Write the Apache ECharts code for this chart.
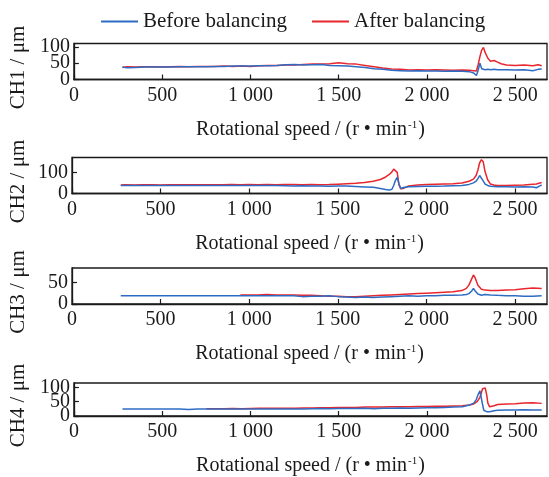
<!DOCTYPE html>
<html><head><meta charset="utf-8">
<script src="https://cdn.jsdelivr.net/npm/echarts@6/dist/echarts.min.js"></script>
<style>html,body{margin:0;padding:0;background:#fff}#c{width:549px;height:477px}</style>
</head><body><div id="c"></div>
<script>
// ---- data ----
var seriesNames = ['Before balancing', 'After balancing'];
var channelNames = ['CH1 / μm', 'CH2 / μm', 'CH3 / μm', 'CH4 / μm'];
var xTicks = [0, 500, 1000, 1500, 2000, 2500];
var xTickLabels = ['0', '500', '1 000', '1 500', '2 000', '2 500'];
var yTicks1 = [0, 50, 100];
var yTicks2 = [0, 100];
var yTicks3 = [0, 50];
var yTicks4 = [0, 50, 100];

var rpm1 = [275,300,350,400,450,500,550,600,650,700,750,800,850,900,950,1000,1050,1100,1150,1200,1250,1300,1350,1400,1450,1500,1550,1600,1650,1700,1750,1800,1850,1900,1950,2000,2050,2100,2150,2200,2240,2265,2280,2290,2300,2310,2320,2330,2345,2360,2380,2400,2420,2450,2500,2550,2600,2630,2650];
var ch1Before = [38,36,37,38,38,38,38,39,39,39,39,40,40,41,41,41,42,42,43,45,46,44,45,46,43,42,41,39,37,33,31,28,27,26,27,26,26,25,26,25,24,20,12,28,50,33,30,30,31,30,31,30,30,30,29,30,27,31,32];
var ch1After  = [37,39,38,39,39,38,39,40,39,40,40,40,41,40,41,40,42,43,43,44,44,46,47,47,48,51,48,47,43,39,35,32,31,29,30,29,30,29,28,29,28,27,26,45,70,90,98,82,65,56,58,53,48,44,43,44,42,45,42];

var rpm2 = [275,300,350,400,450,500,550,600,650,700,750,800,850,900,950,1000,1050,1100,1150,1200,1250,1300,1350,1400,1450,1500,1550,1600,1650,1700,1740,1770,1790,1805,1815,1825,1835,1845,1855,1870,1900,1950,2000,2050,2100,2150,2200,2240,2265,2280,2290,2300,2310,2320,2330,2345,2360,2380,2400,2450,2500,2550,2600,2620,2640,2650];
var ch2Before = [38,38,38,38,38,38,38,38,38,38,38,38,38,38,38,38,38,38,38,37,36,37,35,36,34,36,35,33,31,29,24,19,16,20,38,62,76,45,24,28,32,33,34,34,35,37,38,43,50,58,70,85,80,60,45,38,34,33,32,32,31,32,31,27,36,40];
var ch2After  = [40,41,40,41,41,40,41,41,41,41,41,41,41,42,41,42,41,42,41,42,42,41,43,41,42,44,46,48,52,58,66,78,90,102,115,118,100,40,22,24,36,40,42,44,45,46,50,58,68,85,110,145,160,150,105,65,45,40,38,38,39,40,44,45,50,52];

var rpm3 = [275,300,350,400,450,500,550,600,650,700,750,800,850,900,950,1000,1050,1100,1150,1200,1250,1300,1350,1400,1450,1500,1550,1600,1650,1700,1750,1800,1850,1900,1950,2000,2050,2100,2150,2200,2225,2240,2255,2265,2275,2290,2310,2330,2360,2400,2450,2500,2550,2600,2650];
var ch3Before = [19,19,19,19,19,19,19,19,19,19,19,19,19,19,19,19,19,19,19,19,19,17,18,18,19,17,16,15,16,15,16,17,18,19,18,19,19,20,20,21,22,24,30,36,30,23,20,22,21,20,19,19,18,18,19];
var ch3After  = [null,null,null,null,null,null,null,null,null,null,null,null,null,null,21,21,21,22,21,21,21,20,20,19,18,18,17,17,18,19,20,21,22,23,24,25,26,27,28,31,36,44,58,67,60,43,34,32,31,31,32,33,35,37,36];

var rpm4 = [275,300,350,400,450,500,550,600,650,700,750,800,850,900,950,1000,1050,1100,1150,1200,1250,1300,1350,1400,1450,1500,1550,1600,1650,1700,1750,1800,1850,1900,1950,2000,2050,2100,2150,2200,2240,2265,2280,2290,2300,2308,2315,2322,2330,2338,2345,2355,2365,2380,2400,2450,2500,2550,2600,2650];
var ch4Before = [24,24,24,24,24,24,24,24,23,24,24,24,24,24,24,24,24,24,24,24,24,24,25,26,25,26,26,26,27,25,27,27,28,27,28,29,29,30,31,32,38,45,58,75,88,82,40,20,16,15,14,15,16,18,20,21,21,22,21,21];
var ch4After  = [null,null,null,null,null,null,null,null,null,null,25,25,25,26,25,26,27,27,27,27,27,28,28,29,29,30,30,30,31,31,31,32,32,32,33,33,34,34,35,36,38,42,48,55,65,80,95,100,98,75,45,32,28,36,40,42,43,45,46,44];

// ---- chart ----
var FONT = 'Liberation Serif';
var BLUE = '#2e6cc4', RED = '#e8262d', INK = '#1a1a1a';
var gridTops = [43.5, 157.5, 268, 383];
var gridH = 36;
var yMax = [110, 170, 83, 115];
var yTickSets = [yTicks1, yTicks2, yTicks3, yTicks4];
var rpms = [rpm1, rpm2, rpm3, rpm4];
var befores = [ch1Before, ch2Before, ch3Before, ch4Before];
var afters = [ch1After, ch2After, ch3After, ch4After];

function pairs(xs, ys) {
  var out = [];
  for (var i = 0; i < xs.length; i++) if (ys[i] !== null) out.push([xs[i], ys[i]]);
  return out;
}

var grids = [], xAxes = [], yAxes = [], series = [];
for (var k = 0; k < 4; k++) {
  grids.push({left: 72, right: 2, top: gridTops[k], height: gridH, show: true,
    borderColor: INK, borderWidth: 1.3, backgroundColor: 'transparent'});
  xAxes.push({type: 'value', gridIndex: k, min: 0, max: 2680,
    name: 'Rotational speed / (r • min{sup|-1})', nameLocation: 'middle', nameGap: 40,
    nameTextStyle: {fontFamily: FONT, fontSize: 20, color: INK,
      rich: {sup: {fontFamily: FONT, fontSize: 11, verticalAlign: 'top', padding: [0, 1, 9, 1], color: INK}}},
    axisLine: {show: true, lineStyle: {color: INK, width: 1.3}},
    axisTick: {inside: true, length: 5, lineStyle: {color: INK, width: 1.2}, customValues: xTicks},
    axisLabel: {margin: 6, fontFamily: FONT, fontSize: 20, color: INK, customValues: xTicks,
      showMinLabel: true, showMaxLabel: true, hideOverlap: false,
      formatter: function (v) { var i = xTicks.indexOf(v); return i >= 0 ? xTickLabels[i] : ''; }},
    splitLine: {show: false}});
  // ticks split into two label sets so that closely stacked labels are all drawn
  var ticks = yTickSets[k];
  var setA = ticks.filter(function (v, i) { return i % 2 === 0; });
  var setB = ticks.filter(function (v, i) { return i % 2 === 1; });
  yAxes.push({type: 'value', gridIndex: k, min: 0, max: yMax[k],
    name: channelNames[k], nameLocation: 'middle', nameGap: 43, nameRotate: 90,
    nameTextStyle: {fontFamily: FONT, fontSize: 21, color: INK, padding: [0, 12, 0, 0]},
    axisLine: {show: true, lineStyle: {color: INK, width: 1.3}},
    axisTick: {inside: true, length: 5, lineStyle: {color: INK, width: 1.2}, customValues: ticks},
    axisLabel: {margin: 4, fontFamily: FONT, fontSize: 20, lineHeight: 14, color: INK,
      customValues: setA, showMinLabel: true, showMaxLabel: true, hideOverlap: false},
    splitLine: {show: false}});
  yAxes.push({type: 'value', gridIndex: k, min: 0, max: yMax[k], position: 'left',
    axisLine: {show: false}, axisTick: {show: false}, splitLine: {show: false},
    axisLabel: {show: setB.length > 0, margin: 4, fontFamily: FONT, fontSize: 20, lineHeight: 14, color: INK,
      customValues: setB.length ? setB : [0], showMinLabel: true, showMaxLabel: true, hideOverlap: false}});
  series.push({name: seriesNames[1], type: 'line', xAxisIndex: k, yAxisIndex: 2 * k,
    data: pairs(rpms[k], afters[k]), showSymbol: false, symbol: 'none',
    lineStyle: {color: RED, width: 1.5}, itemStyle: {color: RED}, animation: false});
  series.push({name: seriesNames[0], type: 'line', xAxisIndex: k, yAxisIndex: 2 * k,
    data: pairs(rpms[k], befores[k]), showSymbol: false, symbol: 'none',
    lineStyle: {color: BLUE, width: 1.5}, itemStyle: {color: BLUE}, animation: false});
}

var chart = echarts.init(document.getElementById('c'), null, {renderer: 'canvas'});
chart.setOption({
  animation: false,
  backgroundColor: '#fff',
  legend: {data: seriesNames, top: 6, left: 96, icon: 'rect', itemWidth: 37, itemHeight: 2, itemGap: 25,
    textStyle: {fontFamily: FONT, fontSize: 21, color: INK}},
  grid: grids, xAxis: xAxes, yAxis: yAxes, series: series
});
</script></body></html>
